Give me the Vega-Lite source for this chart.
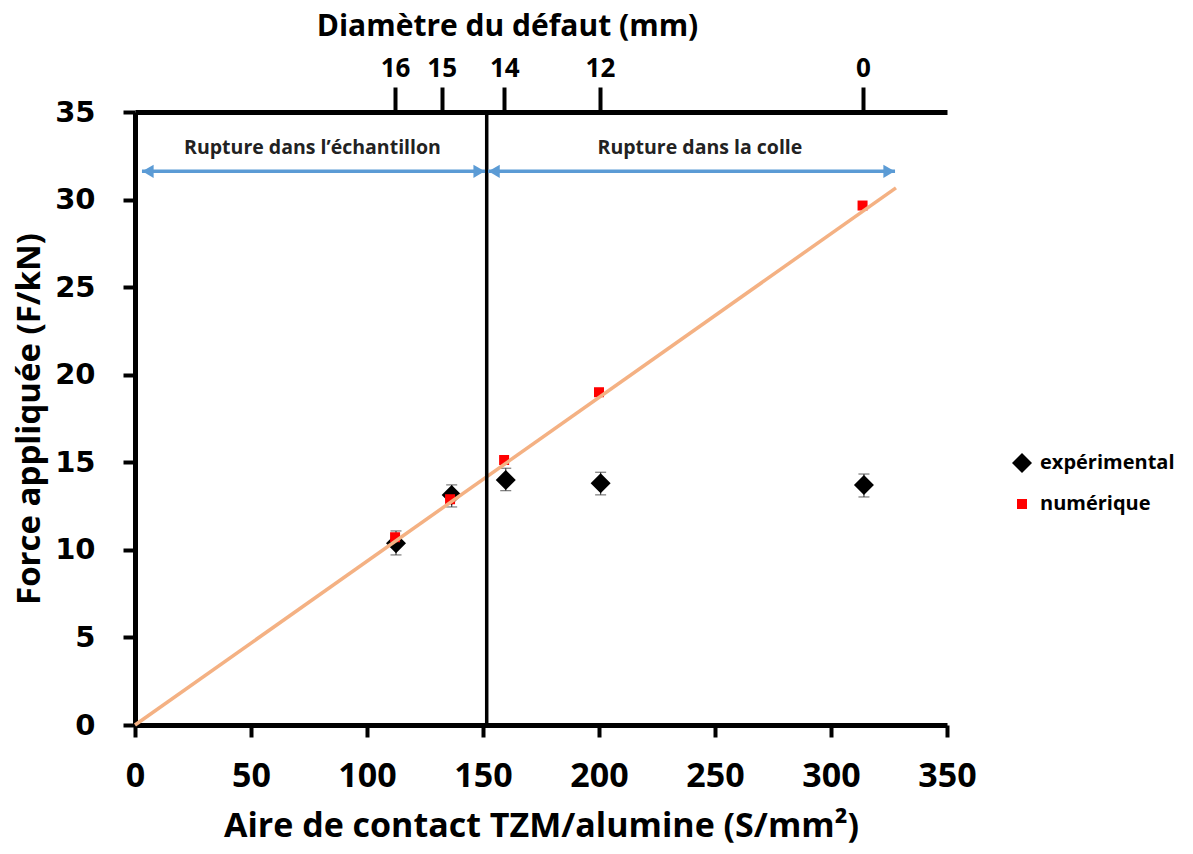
{
  "$schema": "https://vega.github.io/schema/vega-lite/v6.json",
  "width": 812,
  "height": 613,
  "autosize": {"type": "none"},
  "padding": {"left": 135, "top": 112, "right": 246, "bottom": 129},
  "background": "white",
  "datasets": {
    "mesures": [
      {"serie": "expérimental", "aire": 112.5, "force": 10.38, "fmin": 9.71, "fmax": 11.08},
      {"serie": "expérimental", "aire": 136.5, "force": 13.13, "fmin": 12.45, "fmax": 13.71},
      {"serie": "expérimental", "aire": 159.8, "force": 13.99, "fmin": 13.38, "fmax": 14.66},
      {"serie": "expérimental", "aire": 200.7, "force": 13.8, "fmin": 13.14, "fmax": 14.43},
      {"serie": "expérimental", "aire": 314.2, "force": 13.71, "fmin": 13.02, "fmax": 14.33},
      {"serie": "numérique", "aire": 112.1, "force": 10.72},
      {"serie": "numérique", "aire": 135.8, "force": 12.89},
      {"serie": "numérique", "aire": 159.1, "force": 15.13},
      {"serie": "numérique", "aire": 200.0, "force": 19.0},
      {"serie": "numérique", "aire": 313.6, "force": 29.66}
    ],
    "tendance": [{"aire": 0, "force": 0}, {"aire": 328, "force": 30.67}],
    "seuil": [{"aire": 151.6}],
    "zones": [
      {"zone": "Rupture dans l’échantillon", "debut": 3, "fin": 150.9, "centre": 76.5, "force": 31.61, "texte": 32.95},
      {"zone": "Rupture dans la colle", "debut": 152.2, "fin": 327.6, "centre": 243.5, "force": 31.61, "texte": 32.95}
    ]
  },
  "resolve": {"axis": {"x": "independent"}},
  "layer": [
    {
      "data": {"name": "mesures"},
      "transform": [{"filter": "datum.serie == 'expérimental'"}],
      "mark": {"type": "rule", "color": "#404040", "strokeWidth": 1.2},
      "encoding": {
        "x": {"field": "aire", "type": "quantitative", "scale": {"domain": [0, 350], "nice": false}, "axis": null},
        "y": {"field": "fmin", "type": "quantitative", "scale": {"domain": [0, 35], "nice": false}, "title": "Force appliquée (F/kN)"},
        "y2": {"field": "fmax"}
      }
    },
    {
      "data": {"name": "mesures"},
      "transform": [{"filter": "datum.serie == 'expérimental'"}],
      "mark": {"type": "tick", "orient": "horizontal", "color": "#404040", "size": 11, "thickness": 1.2},
      "encoding": {
        "x": {"field": "aire", "type": "quantitative", "axis": null},
        "y": {"field": "fmin", "type": "quantitative", "title": "Force appliquée (F/kN)"}
      }
    },
    {
      "data": {"name": "mesures"},
      "transform": [{"filter": "datum.serie == 'expérimental'"}],
      "mark": {"type": "tick", "orient": "horizontal", "color": "#404040", "size": 11, "thickness": 1.2},
      "encoding": {
        "x": {"field": "aire", "type": "quantitative", "axis": null},
        "y": {"field": "fmax", "type": "quantitative", "title": "Force appliquée (F/kN)"}
      }
    },
    {
      "data": {"name": "mesures"},
      "mark": {"type": "point", "filled": true, "opacity": 1, "strokeWidth": 0},
      "encoding": {
        "x": {
          "field": "aire", "type": "quantitative",
          "axis": {"orient": "bottom", "values": [0, 50, 100, 150, 200, 250, 300, 350], "title": "Aire de contact TZM/alumine (S/mm²)"}
        },
        "y": {
          "field": "force", "type": "quantitative",
          "axis": {"values": [0, 5, 10, 15, 20, 25, 30, 35]},
          "title": "Force appliquée (F/kN)"
        },
        "color": {"field": "serie", "type": "nominal", "scale": {"domain": ["expérimental", "numérique"], "range": ["#000000", "#FF0000"]}, "legend": {"title": null}},
        "shape": {"field": "serie", "type": "nominal", "scale": {"domain": ["expérimental", "numérique"], "range": ["diamond", "square"]}, "legend": {"title": null}},
        "size": {"field": "serie", "type": "nominal", "scale": {"domain": ["expérimental", "numérique"], "range": [400, 100]}, "legend": null}
      }
    },
    {
      "data": {"name": "tendance"},
      "mark": {"type": "line", "color": "#F4B183", "strokeWidth": 3.5},
      "encoding": {
        "x": {"field": "aire", "type": "quantitative", "axis": null},
        "y": {"field": "force", "type": "quantitative", "title": "Force appliquée (F/kN)"}
      }
    },
    {
      "data": {"name": "seuil"},
      "mark": {"type": "rule", "color": "black", "strokeWidth": 3.5},
      "encoding": {
        "x": {
          "field": "aire", "type": "quantitative",
          "axis": {
            "orient": "top",
            "values": [112.1, 132.2, 159.2, 200.4, 313.8],
            "labelExpr": "datum.value == 112.1 ? '16' : datum.value == 132.2 ? '15' : datum.value == 159.2 ? '14' : datum.value == 200.4 ? '12' : '0'",
            "title": "Diamètre du défaut (mm)",
            "titleX": 372
          }
        }
      }
    },
    {
      "data": {"name": "zones"},
      "mark": {"type": "rule", "color": "#5B9BD5", "strokeWidth": 3.5},
      "encoding": {
        "x": {"field": "debut", "type": "quantitative", "axis": null},
        "x2": {"field": "fin"},
        "y": {"field": "force", "type": "quantitative", "title": "Force appliquée (F/kN)"}
      }
    },
    {
      "data": {"name": "zones"},
      "mark": {"type": "point", "shape": "triangle-left", "filled": true, "color": "#5B9BD5", "opacity": 1, "size": 170, "xOffset": 6, "strokeWidth": 0},
      "encoding": {
        "x": {"field": "debut", "type": "quantitative", "axis": null},
        "y": {"field": "force", "type": "quantitative", "title": "Force appliquée (F/kN)"}
      }
    },
    {
      "data": {"name": "zones"},
      "mark": {"type": "point", "shape": "triangle-right", "filled": true, "color": "#5B9BD5", "opacity": 1, "size": 170, "xOffset": -6, "strokeWidth": 0},
      "encoding": {
        "x": {"field": "fin", "type": "quantitative", "axis": null},
        "y": {"field": "force", "type": "quantitative", "title": "Force appliquée (F/kN)"}
      }
    },
    {
      "data": {"name": "zones"},
      "mark": {"type": "text", "font": "Open Sans", "fontSize": 19.5, "fontWeight": "bold", "color": "#222222", "align": "center", "baseline": "middle"},
      "encoding": {
        "x": {"field": "centre", "type": "quantitative", "axis": null},
        "y": {"field": "texte", "type": "quantitative", "title": "Force appliquée (F/kN)"},
        "text": {"field": "zone"}
      }
    }
  ],
  "config": {
    "view": {"stroke": null},
    "axis": {"grid": false, "labelFlush": false, "domainColor": "black", "tickColor": "black", "labelColor": "black", "titleColor": "black"},
    "axisLeft": {
      "domainWidth": 5, "tickWidth": 4, "tickSize": 12,
      "labelFont": "DejaVu Sans", "labelFontWeight": "bold", "labelFontSize": 29, "labelPadding": 28,
      "titleFont": "Open Sans", "titleFontWeight": "bold", "titleFontSize": 33, "titlePadding": 8
    },
    "axisBottom": {
      "domainWidth": 5, "tickWidth": 4, "tickSize": 12,
      "labelFont": "Open Sans", "labelFontWeight": "bold", "labelFontSize": 34, "labelPadding": 22,
      "titleFont": "Open Sans", "titleFontWeight": "bold", "titleFontSize": 34, "titlePadding": 16
    },
    "axisTop": {
      "domainWidth": 5, "tickWidth": 4, "tickSize": 25,
      "labelFont": "Open Sans", "labelFontWeight": "bold", "labelFontSize": 26, "labelPadding": 6,
      "titleFont": "Open Sans", "titleFontWeight": "bold", "titleFontSize": 30, "titlePadding": 14
    },
    "legend": {
      "orient": "none", "legendX": 877, "legendY": 341,
      "labelFont": "Open Sans", "labelFontWeight": "bold", "labelFontSize": 20, "labelColor": "black",
      "symbolSize": 160, "rowPadding": 21, "labelOffset": 8, "symbolStrokeWidth": 0
    }
  }
}
